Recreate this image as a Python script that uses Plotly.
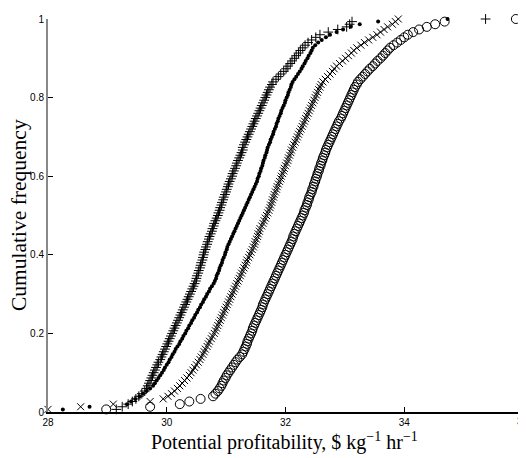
import plotly.graph_objects as go

plus_series = [
    29.15, 29.25, 29.35, 29.42, 29.48, 29.53, 29.58, 29.63, 29.66, 29.68,
    29.70, 29.72, 29.74, 29.76, 29.78, 29.80, 29.82, 29.84, 29.86, 29.89,
    29.91, 29.93, 29.95, 29.97, 29.99, 30.01, 30.03, 30.05, 30.07, 30.09,
    30.11, 30.13, 30.15, 30.17, 30.19, 30.21, 30.23, 30.25, 30.27, 30.29,
    30.31, 30.33, 30.35, 30.37, 30.39, 30.41, 30.43, 30.45, 30.47, 30.49,
    30.50, 30.51, 30.53, 30.54, 30.56, 30.57, 30.58, 30.60, 30.61, 30.62,
    30.63, 30.65, 30.66, 30.68, 30.69, 30.71, 30.72, 30.74, 30.76, 30.77,
    30.79, 30.80, 30.82, 30.84, 30.86, 30.87, 30.89, 30.90, 30.92, 30.93,
    30.95, 30.96, 30.98, 31.00, 31.01, 31.03, 31.04, 31.06, 31.08, 31.10,
    31.11, 31.13, 31.15, 31.17, 31.18, 31.20, 31.22, 31.24, 31.26, 31.28,
    31.28, 31.30, 31.32, 31.34, 31.36, 31.38, 31.40, 31.42, 31.44, 31.46,
    31.48, 31.50, 31.52, 31.54, 31.56, 31.58, 31.60, 31.62, 31.64, 31.66,
    31.68, 31.70, 31.72, 31.74, 31.77, 31.79, 31.84, 31.88, 31.92, 31.97,
    32.01, 32.04, 32.08, 32.11, 32.15, 32.18, 32.22, 32.25, 32.29, 32.33,
    32.38, 32.44, 32.51, 32.58, 32.72, 32.88, 33.03, 33.08, 33.12, 35.37]

dot_series = [
    28.25, 28.70, 29.33, 29.40, 29.47, 29.54, 29.60, 29.66, 29.72, 29.77,
    29.80, 29.83, 29.86, 29.89, 29.92, 29.95, 29.97, 30.00, 30.03, 30.05,
    30.08, 30.10, 30.13, 30.15, 30.18, 30.21, 30.23, 30.26, 30.28, 30.31,
    30.33, 30.36, 30.38, 30.41, 30.43, 30.46, 30.48, 30.51, 30.53, 30.56,
    30.58, 30.61, 30.63, 30.66, 30.68, 30.71, 30.73, 30.76, 30.79, 30.81,
    30.83, 30.84, 30.86, 30.88, 30.89, 30.91, 30.93, 30.94, 30.96, 30.98,
    30.99, 31.01, 31.02, 31.04, 31.06, 31.08, 31.10, 31.12, 31.14, 31.16,
    31.18, 31.20, 31.22, 31.24, 31.26, 31.28, 31.30, 31.32, 31.34, 31.36,
    31.38, 31.40, 31.42, 31.44, 31.46, 31.48, 31.50, 31.52, 31.53, 31.55,
    31.56, 31.58, 31.59, 31.61, 31.62, 31.63, 31.65, 31.66, 31.68, 31.69,
    31.70, 31.72, 31.74, 31.75, 31.77, 31.79, 31.80, 31.82, 31.84, 31.85,
    31.87, 31.88, 31.90, 31.92, 31.93, 31.95, 31.97, 31.99, 32.00, 32.02,
    32.04, 32.05, 32.07, 32.09, 32.10, 32.12, 32.15, 32.18, 32.21, 32.24,
    32.27, 32.29, 32.32, 32.34, 32.37, 32.39, 32.42, 32.44, 32.46, 32.50,
    32.55, 32.61, 32.68, 32.75, 32.86, 32.97, 33.10, 33.25, 33.56, 34.73]

x_series = [
    28.00, 28.55, 29.10, 29.72, 29.94, 30.02, 30.08, 30.13, 30.18, 30.22,
    30.26, 30.30, 30.34, 30.38, 30.41, 30.44, 30.47, 30.50, 30.53, 30.56,
    30.58, 30.61, 30.63, 30.65, 30.68, 30.70, 30.72, 30.75, 30.77, 30.80,
    30.82, 30.84, 30.86, 30.88, 30.90, 30.92, 30.94, 30.96, 30.98, 31.00,
    31.02, 31.04, 31.06, 31.08, 31.10, 31.12, 31.14, 31.16, 31.18, 31.20,
    31.22, 31.24, 31.26, 31.28, 31.30, 31.32, 31.34, 31.35, 31.38, 31.40,
    31.42, 31.44, 31.46, 31.48, 31.49, 31.51, 31.53, 31.54, 31.56, 31.57,
    31.60, 31.62, 31.64, 31.66, 31.68, 31.70, 31.72, 31.74, 31.75, 31.77,
    31.78, 31.80, 31.81, 31.83, 31.85, 31.86, 31.88, 31.90, 31.92, 31.93,
    31.95, 31.97, 31.98, 32.00, 32.02, 32.04, 32.05, 32.07, 32.09, 32.10,
    32.12, 32.14, 32.16, 32.18, 32.20, 32.22, 32.24, 32.26, 32.28, 32.30,
    32.32, 32.34, 32.36, 32.38, 32.40, 32.42, 32.44, 32.46, 32.48, 32.50,
    32.52, 32.54, 32.56, 32.58, 32.60, 32.63, 32.67, 32.71, 32.75, 32.79,
    32.82, 32.86, 32.91, 32.96, 33.01, 33.06, 33.11, 33.15, 33.20, 33.27,
    33.33, 33.40, 33.47, 33.54, 33.60, 33.66, 33.72, 33.80, 33.85, 33.90]

circle_series = [
    28.98, 29.72, 30.22, 30.38, 30.57, 30.78, 30.82, 30.86, 30.89, 30.92,
    30.94, 30.96, 30.99, 31.01, 31.04, 31.07, 31.10, 31.13, 31.16, 31.19,
    31.23, 31.27, 31.29, 31.31, 31.33, 31.35, 31.36, 31.38, 31.40, 31.42,
    31.44, 31.45, 31.47, 31.49, 31.51, 31.53, 31.55, 31.57, 31.59, 31.61,
    31.62, 31.64, 31.66, 31.68, 31.70, 31.72, 31.74, 31.76, 31.78, 31.80,
    31.82, 31.84, 31.86, 31.88, 31.90, 31.92, 31.94, 31.96, 31.98, 32.00,
    32.02, 32.04, 32.06, 32.08, 32.10, 32.12, 32.13, 32.15, 32.17, 32.19,
    32.21, 32.23, 32.25, 32.27, 32.29, 32.31, 32.32, 32.34, 32.36, 32.37,
    32.39, 32.40, 32.42, 32.44, 32.45, 32.47, 32.48, 32.50, 32.51, 32.53,
    32.54, 32.56, 32.57, 32.59, 32.60, 32.62, 32.63, 32.65, 32.67, 32.68,
    32.70, 32.72, 32.74, 32.76, 32.78, 32.80, 32.82, 32.84, 32.86, 32.88,
    32.90, 32.93, 32.95, 32.97, 32.99, 33.01, 33.03, 33.05, 33.07, 33.09,
    33.11, 33.13, 33.15, 33.17, 33.20, 33.22, 33.26, 33.30, 33.34, 33.38,
    33.42, 33.47, 33.51, 33.55, 33.60, 33.64, 33.68, 33.72, 33.76, 33.82,
    33.88, 33.94, 34.00, 34.06, 34.15, 34.25, 34.38, 34.52, 34.68, 35.88]

x_ticks = [28, 30, 32, 34, 36]
x_tick_labels = ["28", "30", "32", "34", "36"]
y_ticks = [0, 0.2, 0.4, 0.6, 0.8, 1]
y_tick_labels = ["0", "0.2", "0.4", "0.6", "0.8", "1"]
x_title = "Potential profitability, $ kg<sup>−1</sup> hr<sup>−1</sup>"
y_title = "Cumulative frequency"


def ecdf(values):
    n = len(values)
    return [(i + 1) / n for i in range(n)]


fig = go.Figure()
styles = [
    (plus_series, dict(symbol="cross-thin-open", size=7, line=dict(color="black", width=1), color="black")),
    (dot_series, dict(symbol="circle", size=4, color="black", line=dict(width=0))),
    (x_series, dict(symbol="x-thin-open", size=7, line=dict(color="black", width=1), color="black")),
    (circle_series, dict(symbol="circle-open", size=9, line=dict(color="black", width=1), color="black")),
]
for vals, mk in styles:
    fig.add_trace(go.Scatter(x=vals, y=ecdf(vals), mode="markers", marker=mk,
                             cliponaxis=False, showlegend=False))

# The page body adds an 8px offset, so the figure is 8px smaller than the window
OFF = 8
W, H = 526 - OFF, 458 - OFF
L, R, T, B = 48 - OFF, 3, 19 - OFF, 46
fig.update_layout(
    width=W, height=H,
    margin=dict(l=L, r=R, t=T, b=B, autoexpand=False),
    paper_bgcolor="white", plot_bgcolor="white",
    font=dict(family="Liberation Sans, Arial, sans-serif", size=10, color="black"),
)
# last tick label (at the very right edge) is drawn as an annotation so it can be partly cut off
fig.update_xaxes(
    range=[28, 36], tickvals=x_ticks, ticktext=x_tick_labels[:-1] + [""],
    showgrid=False, zeroline=False, showline=True, linecolor="black", linewidth=1.5,
    ticks="inside", ticklen=5, tickcolor="black", automargin=False,
)
fig.update_yaxes(
    range=[0, 1], tickvals=y_ticks, ticktext=y_tick_labels,
    showgrid=False, zeroline=False, showline=True, linecolor="#888888", linewidth=2,
    ticks="inside", ticklen=5, tickcolor="black", automargin=False,
)
fig.add_annotation(text=x_tick_labels[-1], xref="x", x=x_ticks[-1], yref="paper", y=0,
                   yanchor="top", xanchor="center", yshift=-2, showarrow=False,
                   font=dict(family="Liberation Sans, Arial, sans-serif", size=10, color="black"))

serif = "Liberation Serif, Times New Roman, serif"
pw, ph = W - L - R, H - T - B
fig.add_annotation(text=x_title, xref="paper", yref="paper",
                   x=(284 - OFF - L) / pw, y=-(442 - OFF - (H - B)) / ph,
                   xanchor="center", yanchor="middle", showarrow=False,
                   font=dict(family=serif, size=20, color="black"))
fig.add_annotation(text=y_title, xref="paper", yref="paper", textangle=-90,
                   x=-(L - (19 - OFF)) / pw, y=(H - B - (215 - OFF)) / ph,
                   xanchor="center", yanchor="middle", showarrow=False,
                   font=dict(family=serif, size=21.5, color="black"))

fig.write_html("out.html")
